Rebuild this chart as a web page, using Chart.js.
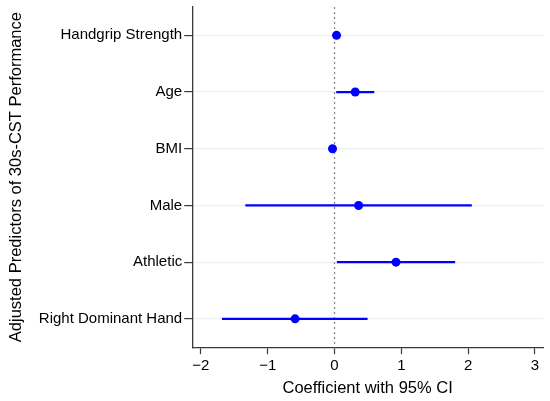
<!DOCTYPE html>
<html>
<head>
<meta charset="utf-8">
<script src="https://cdn.jsdelivr.net/npm/chart.js@4/dist/chart.umd.min.js"></script>
<style>
  html, body { margin: 0; padding: 0; background: #fff; }
  #wrap { width: 550px; height: 401px; }
</style>
</head>
<body>
<div id="wrap"><canvas id="forest"></canvas></div>
<script>
const categories = ['Handgrip Strength', 'Age', 'BMI', 'Male', 'Athletic', 'Right Dominant Hand'];
const estimates = [0.03, 0.31, -0.03, 0.36, 0.92, -0.59];
const ciLow = [-0.02, 0.03, -0.06, -1.33, 0.04, -1.68];
const ciHigh = [0.07, 0.59, 0.01, 2.05, 1.80, 0.49];
const xTicks = [-2, -1, 0, 1, 2, 3];

const blue = '#0000ff';
const axisColor = '#3a3a3a';
const font = { family: '"Liberation Sans", Arial, sans-serif', size: 15 };

// dotted reference line at zero
const zeroLine = {
    id: 'zeroLine',
    beforeDatasetsDraw(chart) {
        const { ctx, chartArea, scales } = chart;
        const x = scales.x.getPixelForValue(0);
        ctx.save();
        ctx.strokeStyle = '#8c8c8c';
        ctx.lineWidth = 1.3;
        ctx.setLineDash([2, 3]);
        ctx.beginPath();
        ctx.moveTo(x, chartArea.top);
        ctx.lineTo(x, chartArea.bottom);
        ctx.stroke();
        ctx.restore();
    }
};

document.addEventListener('DOMContentLoaded', () => {
    const ctx = document.getElementById('forest').getContext('2d');
    new Chart(ctx, {
        type: 'bar',
        data: {
            labels: categories,
            datasets: [{
                label: '95% CI',
                data: categories.map((c, i) => [ciLow[i], ciHigh[i]]),
                backgroundColor: blue,
                borderWidth: 0,
                barThickness: 1.6,
                order: 1
            }, {
                type: 'line',
                label: 'Coefficient',
                indexAxis: 'y',
                data: estimates,
                showLine: false,
                pointRadius: 4.5,
                pointHoverRadius: 4.5,
                pointBackgroundColor: blue,
                pointBorderColor: blue,
                pointBorderWidth: 0,
                order: 0
            }]
        },
        options: {
            indexAxis: 'y',
            responsive: true,
            maintainAspectRatio: false,
            animation: false,
            layout: { padding: { left: 7, right: 7, top: 7, bottom: 3 } },
            scales: {
                x: {
                    type: 'linear',
                    min: -2.13,
                    max: 3.12,
                    afterBuildTicks: axis => { axis.ticks = xTicks.map(v => ({ value: v })); },
                    ticks: {
                        color: '#000',
                        font: font,
                        padding: 3,
                        callback: v => v < 0 ? '\u2212' + Math.abs(v) : String(v)
                    },
                    grid: { drawOnChartArea: false, drawTicks: true, tickLength: 7, tickColor: axisColor, tickWidth: 1.2 },
                    border: { color: axisColor, width: 1.3 },
                    title: { display: true, text: 'Coefficient with 95% CI', color: '#000', font: { family: font.family, size: 16.5 }, padding: { top: 0, bottom: 0 } }
                },
                y: {
                    type: 'category',
                    offset: true,
                    // labels sit inside the offset bands, so no overflow room is needed
                    afterFit: scale => { scale.paddingTop = 0; scale.paddingBottom = 0; },
                    ticks: { color: '#000', font: font, padding: 2 },
                    grid: { offset: false, color: '#e9f1f3', lineWidth: 1.2, tickLength: 8, tickColor: axisColor, tickWidth: 1.2 },
                    border: { color: axisColor, width: 1.3 },
                    title: { display: true, text: 'Adjusted Predictors of 30s-CST Performance', color: '#000', font: { family: font.family, size: 16.5 }, padding: { top: 0, bottom: 10 } }
                }
            },
            plugins: {
                legend: { display: false },
                tooltip: { enabled: false }
            }
        },
        plugins: [zeroLine]
    });
});
</script>
</body>
</html>
